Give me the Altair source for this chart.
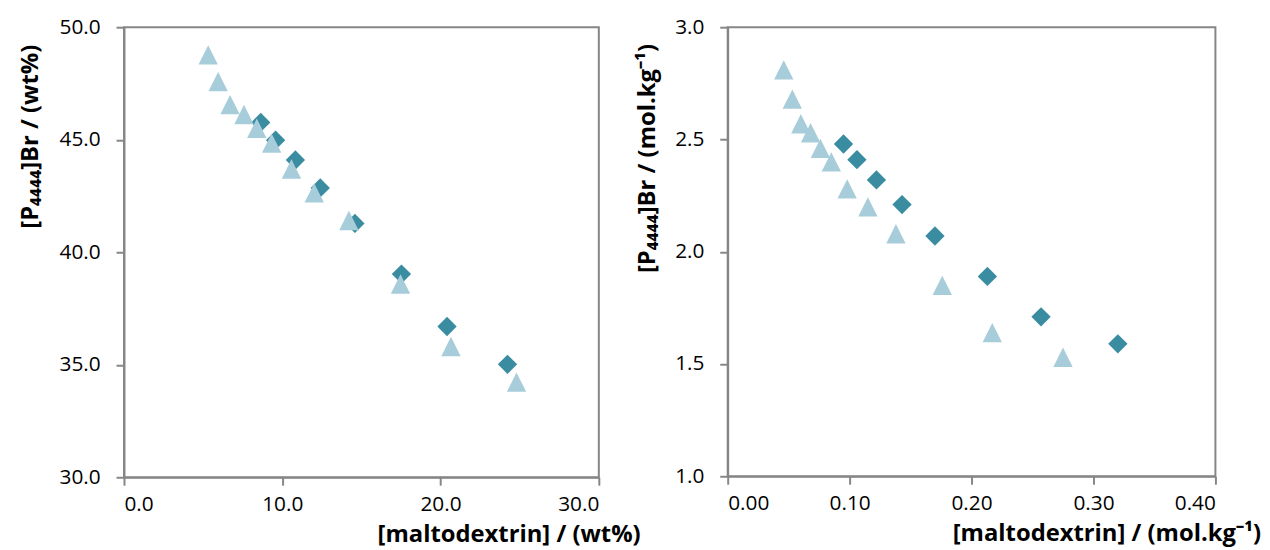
import altair as alt
import pandas as pd

# Left panel: wt%
tri_wt_x = [5.32, 5.95, 6.70, 7.58, 8.39, 9.33, 10.58, 12.02, 14.21, 17.47, 20.66, 24.80]
tri_wt_y = [48.77, 47.58, 46.56, 46.12, 45.51, 44.85, 43.70, 42.64, 41.41, 38.59, 35.81, 34.23]
dia_wt_x = [8.64, 9.58, 10.83, 12.40, 14.59, 17.53, 20.41, 24.23]
dia_wt_y = [45.77, 44.98, 44.10, 42.86, 41.28, 39.03, 36.70, 35.02]

# Right panel: mol/kg
tri_mol_x = [0.046, 0.053, 0.060, 0.068, 0.076, 0.085, 0.098, 0.115, 0.138, 0.176, 0.217, 0.275]
tri_mol_y = [2.81, 2.68, 2.57, 2.53, 2.46, 2.40, 2.28, 2.20, 2.08, 1.85, 1.64, 1.53]
dia_mol_x = [0.095, 0.106, 0.122, 0.143, 0.170, 0.213, 0.257, 0.320]
dia_mol_y = [2.48, 2.41, 2.32, 2.21, 2.07, 1.89, 1.71, 1.59]

x_ticks_wt = [0, 10, 20, 30]
y_ticks_wt = [30, 35, 40, 45, 50]
x_ticks_mol = [0, 0.1, 0.2, 0.3, 0.4]
y_ticks_mol = [1.0, 1.5, 2.0, 2.5, 3.0]

TRI_COLOR = "#A8CDDA"
DIA_COLOR = "#3A8CA0"
TRI_PATH = "M0,-1L1,1L-1,1Z"


def panel(tx, ty, dx, dy, xdom, ydom, xt, yt, xfmt, yfmt, xtitle, ytitle,
          w, h, xtx, ytx, yty):
    tri = pd.DataFrame({"x": tx, "y": ty})
    dia = pd.DataFrame({"x": dx, "y": dy})
    xenc = alt.X("x:Q", scale=alt.Scale(domain=xdom, nice=False, zero=False),
                 axis=alt.Axis(values=xt, format=xfmt, title=xtitle, labelPadding=9,
                               titleX=xtx, titleY=65, titleAlign="center",
                               titleBaseline="alphabetic"))
    yenc = alt.Y("y:Q", scale=alt.Scale(domain=ydom, nice=False, zero=False),
                 axis=alt.Axis(values=yt, format=yfmt, title=ytitle, labelPadding=16,
                               titleX=ytx, titleY=yty, titleAngle=270,
                               titleAlign="center", titleBaseline="middle"))
    d = alt.Chart(dia).mark_point(shape="diamond", filled=True, opacity=1,
                                  color=DIA_COLOR, size=380, strokeWidth=0).encode(x=xenc, y=yenc)
    t = alt.Chart(tri).mark_point(shape=TRI_PATH, filled=True, opacity=1,
                                  color=TRI_COLOR, size=380, strokeWidth=0).encode(x=xenc, y=yenc)
    return alt.layer(d, t).properties(width=w, height=h)


left = panel(tri_wt_x, tri_wt_y, dia_wt_x, dia_wt_y, [0, 30], [30, 50],
             x_ticks_wt, y_ticks_wt, ".1f", ".1f",
             "[maltodextrin] / (wt%)", "[P₄₄₄₄]Br / (wt%)",
             479, 454, 388, -94, 110)
right = panel(tri_mol_x, tri_mol_y, dia_mol_x, dia_mol_y, [0, 0.4], [1, 3],
              x_ticks_mol, y_ticks_mol, ".2f", ".1f",
              "[maltodextrin] / (mol.kg⁻¹)", "[P₄₄₄₄]Br / (mol.kg⁻¹)",
              492, 453, 382, -81, 132)

chart = alt.hconcat(left, right, spacing=130, bounds="flush").configure_view(
    stroke="#868686", strokeWidth=2
).configure_axis(
    grid=False,
    domainColor="#868686", domainWidth=2,
    tickColor="#868686", tickWidth=2, tickSize=8,
    labelFont="Open Sans", labelFontSize=21, labelColor="#000000",
    titleFont="Open Sans", titleFontSize=24, titleFontWeight="bold", titleColor="#000000",
).properties(padding={"left": 10, "top": 5, "right": 0, "bottom": 0})

chart.save("out.html", embed_options={"renderer": "svg", "actions": False})
